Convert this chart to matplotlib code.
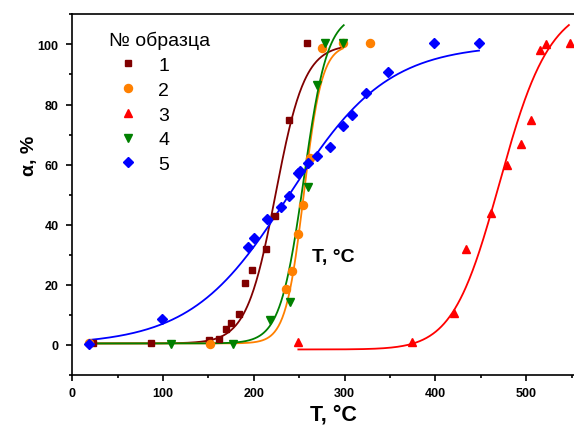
import numpy as np
import matplotlib
matplotlib.use('Agg')
import matplotlib.pyplot as plt
from matplotlib.ticker import MultipleLocator

plt.rcParams['font.family'] = ['Liberation Sans', 'DejaVu Sans']

# ---- data (T, °C ; alpha, %) ----
labels = ['1', '2', '3', '4', '5']
colors = ['#800000', '#FF8000', '#FF0000', '#008000', '#0000FF']
markers = ['s', 'o', '^', 'v', 'D']
msizes = [5.0, 5.8, 6.2, 6.2, 5.2]

T1 = [22.8, 86.7, 150.6, 161.6, 169.3, 174.8, 183.6, 190.2, 198.0, 213.3, 223.4, 238.7, 258.5]
a1 = [0.6, 0.6, 1.6, 1.9, 5.2, 7.2, 10.2, 20.5, 24.9, 31.8, 42.8, 74.8, 100.5]

T2 = [18.7, 151.7, 235.4, 242.0, 248.6, 254.1, 261.8, 275.0, 298.2, 327.9]
a2 = [0.6, 0.2, 18.5, 24.5, 36.8, 46.5, 62.1, 98.7, 100.5, 100.5]

T3 = [248.6, 374.2, 420.5, 433.6, 461.1, 478.8, 494.2, 505.2, 515.0, 521.7, 548.1]
a3 = [0.9, 0.9, 10.6, 31.8, 43.8, 59.8, 66.8, 74.8, 98.1, 100.1, 100.5]

T4 = [108.8, 177.0, 217.7, 239.7, 259.6, 269.5, 278.3, 298.2]
a4 = [0.2, 0.2, 8.2, 14.2, 52.4, 86.4, 100.5, 100.5]

T5 = [18.4, 98.8, 193.5, 200.1, 214.4, 229.9, 238.7, 248.6, 250.8, 259.6,
      269.5, 283.8, 298.2, 308.1, 323.5, 347.7, 398.4, 447.9]
a5 = [0.2, 8.6, 32.5, 35.5, 41.8, 45.8, 49.5, 57.1, 57.8, 60.5,
      62.8, 65.8, 72.8, 76.5, 83.8, 90.7, 100.5, 100.5]

Ts = [T1, T2, T3, T4, T5]
As = [a1, a2, a3, a4, a5]

# ---- fitted curves (read-off fit parameters) ----
# Boltzmann: A2 + (A1-A2)/(1+exp((T-x0)/dx)); Hill: A1 + (A2-A1) T^n/(k^n+T^n)
fit1 = ('boltzmann', 0.5, 100.0, 224.0, 16.0, 18.0, 297.0)
fit2 = ('boltzmann', 0.5, 100.0, 255.0, 10.0, 18.0, 298.0)
fit3 = ('hill', -1.5, 115.0, 473.2, 17.5, 249.0, 547.0)
fit4 = ('boltzmann', 0.5, 110.0, 255.0, 13.0, 18.0, 299.0)
fit5 = ('boltzmann', 0.0, 100.0, 239.0, 54.0, 19.5, 448.0)
fits = [fit1, fit2, fit3, fit4, fit5]


def eval_fit(fit):
    kind, p1, p2, p3, p4, t0, t1 = fit
    t = np.linspace(t0, t1, 400)
    if kind == 'boltzmann':
        y = p2 + (p1 - p2) / (1 + np.exp((t - p3) / p4))
    else:
        y = p1 + (p2 - p1) * t ** p4 / (p3 ** p4 + t ** p4)
    return t, y


fig = plt.figure(figsize=(5.74, 4.27), dpi=100)
ax = fig.add_axes([72.3 / 574, 51 / 427, 522 / 574, 360.6 / 427])

for T, a, fit, c, m, ms, lab in zip(Ts, As, fits, colors, markers, msizes, labels):
    t, y = eval_fit(fit)
    ax.plot(t, y, color=c, lw=1.3, zorder=2)
    ax.plot(T, a, ls='none', marker=m, color=c, ms=ms, mec=c, zorder=3, label=lab)

ax.set_xlim(0, 575)
ax.set_ylim(-10, 110)
ax.xaxis.set_major_locator(MultipleLocator(100))
ax.xaxis.set_minor_locator(MultipleLocator(50))
ax.yaxis.set_major_locator(MultipleLocator(20))
ax.yaxis.set_minor_locator(MultipleLocator(10))
ax.tick_params(which='major', direction='out', length=4, width=1.2, labelsize=9)
ax.tick_params(axis='x', which='major', pad=5)
ax.tick_params(axis='y', which='major', pad=6)
ax.tick_params(which='minor', direction='out', length=2.5, width=1.2)
for lbl in ax.get_xticklabels() + ax.get_yticklabels():
    lbl.set_fontweight('bold')
for sp in ax.spines.values():
    sp.set_linewidth(1.2)

ax.set_xlabel('T, °C', fontsize=15.5, fontweight='bold', labelpad=3)
ax.set_ylabel('α, %', fontsize=14, fontweight='bold')
ax.yaxis.set_label_coords(-0.065, 0.61)

ax.text(264, 28, 'T, °C', fontsize=14, fontweight='bold', ha='left', va='baseline')

leg = ax.legend(loc='upper left', bbox_to_anchor=(0.055, 0.976), frameon=False,
                title='№ образца', fontsize=14, title_fontsize=14,
                handlelength=2.0, handletextpad=0.55, labelspacing=0.37,
                borderaxespad=0, alignment='left')

fig.savefig('out.png', dpi=100)
